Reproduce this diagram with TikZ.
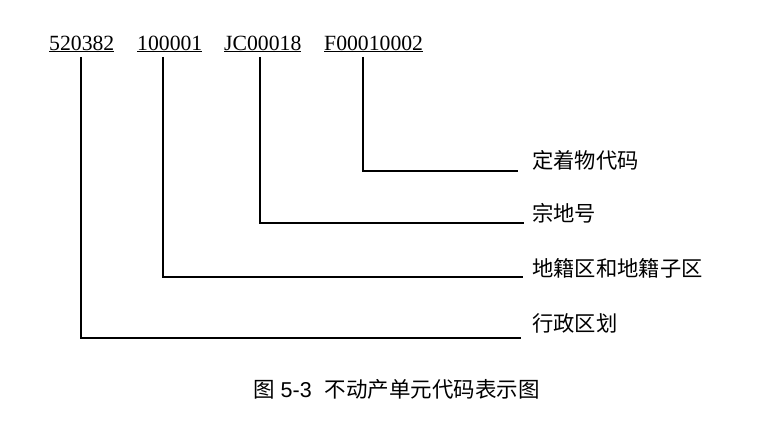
\documentclass[tikz,border=0pt]{standalone}
\usepackage{fontspec}
\setmainfont{Liberation Serif}
\newfontfamily\cjk{Noto Sans CJK SC}
\newfontfamily\capnum{Liberation Sans}
\usetikzlibrary{positioning}
\tikzset{code/.style={anchor=base west, inner sep=0pt, font=\fontsize{21.7}{26}\selectfont},
  item/.style={anchor=west, inner sep=0pt, font=\cjk\fontsize{21.3}{26}\selectfont},
  link/.style={line width=1.1pt}}
\begin{document}
\begin{tikzpicture}[x=1pt,y=-1pt]
\useasboundingbox (0,0) rectangle (768,423);

\node [code] (xzqh) at (49,50) {\underline{520382}};
\node [code] (djq) at (137,50) {\underline{100001}};
\node [code] (zdh) at (224,50) {\underline{JC00018}};
\node [code] (dzw) at (324,50) {\underline{F00010002}};

\node [item] (dzwlab) at (532,160) {定着物代码};
\node [item] (zdhlab) at (532,213) {宗地号};
\node [item] (djqlab) at (532,268) {地籍区和地籍子区};
\node [item] (xzqhlab) at (532,323) {行政区划};

\coordinate (e1) at (518,171);
\coordinate (e2) at (524,223);
\coordinate (e3) at (523,277);
\coordinate (e4) at (521,338);

\draw [link] ([xshift=39pt,yshift=-4.5pt]dzw.south west) |- (e1);
\draw [link] ([xshift=36pt,yshift=-4.5pt]zdh.south west) |- (e2);
\draw [link] ([xshift=26pt,yshift=-4.5pt]djq.south west) |- (e3);
\draw [link] ([xshift=32pt,yshift=-4.5pt]xzqh.south west) |- (e4);

\node [anchor=west, inner sep=0pt, font=\cjk\fontsize{21.5}{26}\selectfont] (cap) at (253,389) {图\hspace{6pt}{\capnum 5-3}\hspace{13pt}不动产单元代码表示图};
\end{tikzpicture}
\end{document}
